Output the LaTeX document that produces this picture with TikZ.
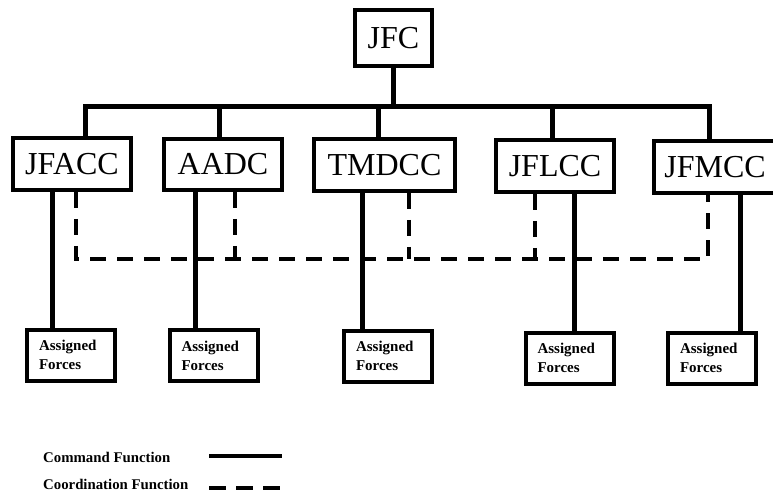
\documentclass[tikz,border=0pt]{standalone}
\usepackage{fontspec}
\setmainfont{Liberation Serif}
\usepackage{tikz}
\tikzstyle{command} = [draw, line width=4pt, inner sep=0pt, font=\fontsize{32}{36}\selectfont]
\tikzstyle{forces} = [draw, line width=4pt, inner xsep=12pt, text width=64pt, minimum height=51pt, align=left, font=\bfseries\fontsize{15}{19}\selectfont]
\tikzstyle{cmdline} = [line width=5pt]
\tikzstyle{crdline} = [line width=4.5pt, dash pattern=on 16pt off 11pt]
\tikzstyle{legend} = [anchor=west, inner sep=0pt, font=\bfseries\fontsize{14.8}{18}\selectfont]

\begin{document}
\begin{tikzpicture}[x=1pt, y=-1pt]
  \useasboundingbox (0,0) rectangle (773,494);

  \node (jfc) [command, minimum width=77pt, minimum height=56pt] at (393.5,38) {JFC};

  \node (jfacc) [command, minimum width=118pt, minimum height=52pt] at (72,164) {JFACC};
  \node (aadc) [command, minimum width=118pt, minimum height=51pt] at (223,164.5) {AADC};
  \node (tmdcc) [command, minimum width=141pt, minimum height=52pt] at (384.5,165) {TMDCC};
  \node (jflcc) [command, minimum width=118pt, minimum height=52pt] at (555,166) {JFLCC};
  \node (jfmcc) [command, minimum width=122pt, minimum height=52pt] at (715,167) {JFMCC};

  \node (fa) [forces] at (71,355) {Assigned\\Forces};
  \node (fb) [forces] at (213.5,355.5) {Assigned\\Forces};
  \node (fc) [forces] at (388,356) {Assigned\\Forces};
  \node (fd) [forces] at (569.5,358) {Assigned\\Forces};
  \node (fe) [forces] at (712,358) {Assigned\\Forces};

  \coordinate (bar) at (393.5,107);
  \coordinate (link) at (393.5,259);

  \draw [cmdline] (jfc) -- (bar);
  \draw [cmdline] ([xshift=13pt]jfacc.north) |- (bar) -| ([xshift=-6pt]jfmcc.north);
  \draw [cmdline] ([xshift=-4pt]aadc.north) -- ([xshift=-4pt]aadc.north |- bar);
  \draw [cmdline] ([xshift=-6.5pt]tmdcc.north) -- ([xshift=-6.5pt]tmdcc.north |- bar);
  \draw [cmdline] ([xshift=-3pt]jflcc.north) -- ([xshift=-3pt]jflcc.north |- bar);

  \draw [cmdline] ([xshift=-20pt]jfacc.south) -- ([xshift=-20pt]jfacc.south |- fa.north);
  \draw [cmdline] ([xshift=-28pt]aadc.south) -- ([xshift=-28pt]aadc.south |- fb.north);
  \draw [cmdline] ([xshift=-22.5pt]tmdcc.south) -- ([xshift=-22.5pt]tmdcc.south |- fc.north);
  \draw [cmdline] ([xshift=19pt]jflcc.south) -- ([xshift=19pt]jflcc.south |- fd.north);
  \draw [cmdline] ([xshift=25pt]jfmcc.south) -- ([xshift=25pt]jfmcc.south |- fe.north);

  \draw [crdline] ([xshift=4pt]jfacc.south) |- (link) -| ([xshift=-7pt]jfmcc.south);
  \draw [crdline] ([xshift=12pt]aadc.south) -- ([xshift=12pt]aadc.south |- link);
  \draw [crdline] ([xshift=24.5pt]tmdcc.south) -- ([xshift=24.5pt]tmdcc.south |- link);
  \draw [crdline] ([xshift=-20pt]jflcc.south) -- ([xshift=-20pt]jflcc.south |- link);

  \node (cmdtext) [legend] at (43,457) {Command Function};
  \node (crdtext) [legend] at (43,484) {Coordination Function};
  \coordinate (cmdA) at (209,456);
  \coordinate (cmdB) at (282,456);
  \coordinate (crdA) at (209,488);
  \coordinate (crdB) at (282,488);
  \draw [cmdline, line width=4pt] (cmdA) -- (cmdB);
  \draw [crdline, dash pattern=on 17pt off 10pt] (crdA) -- (crdB);

\end{tikzpicture}
\end{document}
